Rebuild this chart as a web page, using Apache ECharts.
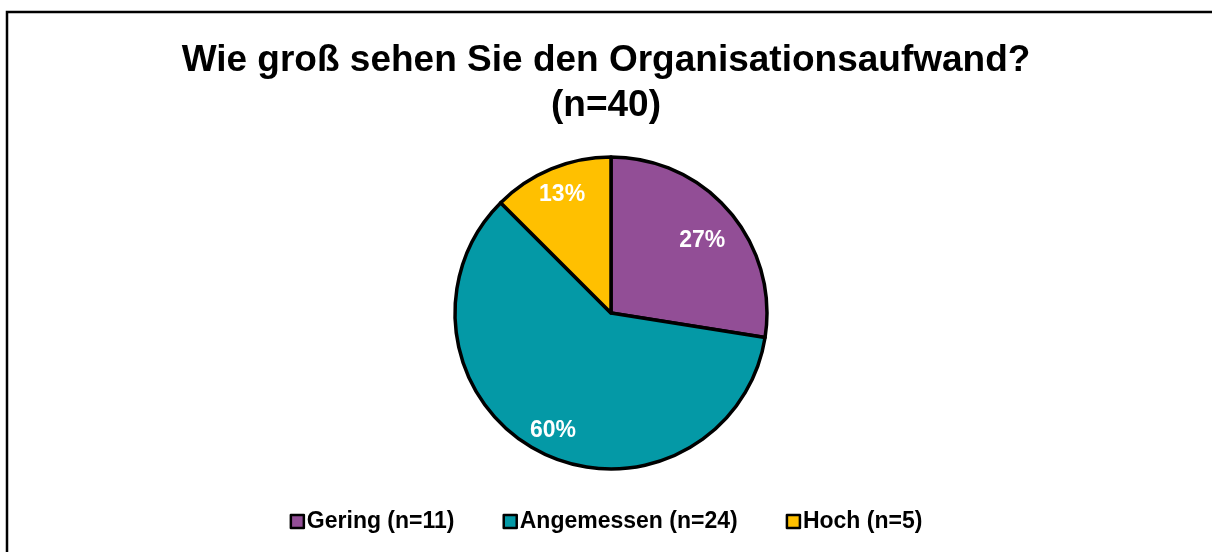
<!DOCTYPE html>
<html>
<head>
<meta charset="utf-8">
<script src="https://cdn.jsdelivr.net/npm/echarts@6/dist/echarts.min.js"></script>
<style>
  html, body { margin: 0; padding: 0; background: #fff; }
  #chart { width: 1212px; height: 552px; }
</style>
</head>
<body>
<div id="chart"></div>
<script>
  // data
  const categories = ['Gering', 'Angemessen', 'Hoch'];
  const counts = [11, 24, 5];
  const percentLabels = ['27%', '60%', '13%'];
  const colors = ['#924E96', '#0499A6', '#FFC000'];
  const titleText = 'Wie groß sehen Sie den Organisationsaufwand?\n(n=40)';

  const FONT = '"Liberation Sans", Arial, sans-serif';
  const CENTER = [611, 313];
  const RADIUS = 156;

  const names = categories.map((c, i) => `${c} (n=${counts[i]})`);
  const pieData = names.map((n, i) => ({
    name: n,
    value: counts[i],
    itemStyle: { color: colors[i] },
  }));

  const chart = echarts.init(document.getElementById('chart'));

  const option = {
    backgroundColor: '#fff',
    animation: false,
    title: {
      text: titleText,
      left: 'center',
      top: 33,
      textStyle: {
        fontFamily: FONT,
        fontSize: 37,
        fontWeight: 'bold',
        color: '#000',
        lineHeight: 45,
      },
    },
    legend: {
      data: names,
      bottom: 14,
      left: 'center',
      icon: 'rect',
      itemWidth: 13,
      itemHeight: 13,
      itemGap: 48,
      textStyle: {
        fontFamily: FONT,
        fontSize: 23,
        fontWeight: 'bold',
        color: '#000',
        padding: [0, 0, 0, -2],
      },
      itemStyle: { borderColor: '#000', borderWidth: 2.5 },
    },
    graphic: [
      {
        type: 'rect',
        shape: { x: 7, y: 12, width: 1230, height: 600 },
        style: { fill: 'none', stroke: '#000', lineWidth: 2.5 },
        silent: true,
        z: 100,
      },
    ],
    series: [
      {
        type: 'pie',
        center: CENTER,
        radius: [0, RADIUS],
        startAngle: 90,
        clockwise: true,
        label: { show: false },
        labelLine: { show: false },
        emphasis: { disabled: true },
        itemStyle: { borderColor: '#000', borderWidth: 3.5 },
        data: pieData,
      },
      {
        // transparent ring that only places the percentage labels
        type: 'pie',
        center: CENTER,
        radius: [RADIUS * 0.6, RADIUS],
        startAngle: 90,
        clockwise: true,
        silent: true,
        legendHoverLink: false,
        emphasis: { disabled: true },
        itemStyle: { color: 'rgba(0,0,0,0)', borderWidth: 0 },
        label: {
          show: true,
          position: 'inside',
          formatter: (p) => percentLabels[p.dataIndex],
          color: '#fff',
          fontFamily: FONT,
          fontSize: 23,
          fontWeight: 'bold',
        },
        labelLine: { show: false },
        data: names.map((n, i) => ({
          name: n,
          value: counts[i],
          label: i === 0 ? { offset: [-6, 11] } : i === 1 ? { offset: [0, 4] } : undefined,
        })),
      },
    ],
  };

  chart.setOption(option);
  window.addEventListener('resize', () => chart.resize());
</script>
</body>
</html>
